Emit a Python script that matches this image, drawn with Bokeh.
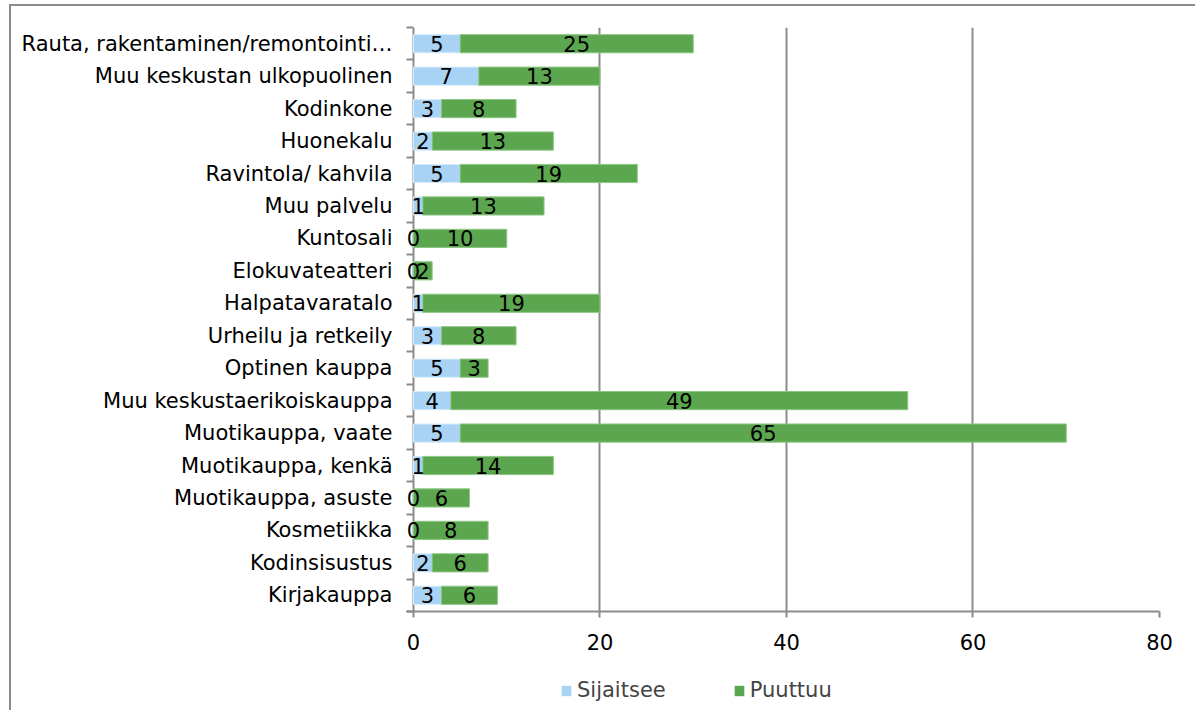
from bokeh.plotting import figure
from bokeh.models import ColumnDataSource, FixedTicker, Legend, LegendItem, Range1d
from bokeh.layouts import column
from bokeh.embed import file_html
from bokeh.resources import INLINE

categories = ["Kirjakauppa", "Kodinsisustus", "Kosmetiikka", "Muotikauppa, asuste",
              "Muotikauppa, kenkä", "Muotikauppa, vaate", "Muu keskustaerikoiskauppa",
              "Optinen kauppa", "Urheilu ja retkeily", "Halpatavaratalo", "Elokuvateatteri",
              "Kuntosali", "Muu palvelu", "Ravintola/ kahvila", "Huonekalu", "Kodinkone",
              "Muu keskustan ulkopuolinen", "Rauta, rakentaminen/remontointi…"]
sijaitsee = [3, 2, 0, 0, 1, 5, 4, 5, 3, 1, 0, 0, 1, 5, 2, 3, 7, 5]
puuttuu = [6, 6, 8, 6, 14, 65, 49, 3, 8, 19, 2, 10, 13, 19, 13, 8, 13, 25]
series = ["Sijaitsee", "Puuttuu"]
x_ticks = [0, 20, 40, 60, 80]

FONT = "DejaVu Sans"
FS = "21px"
BLUE = "#a9d3f4"
GREEN = "#5ca64f"
GRAY = "#8c8c8c"

n = len(categories)
ys = [i + 0.5 for i in range(n)]
p_end = [a + b for a, b in zip(sijaitsee, puuttuu)]
src = ColumnDataSource(dict(
    y=ys, cat=categories,
    s0=[0] * n, s1=sijaitsee, p1=p_end,
    sx=[v / 2 for v in sijaitsee],
    px=[a + b / 2 for a, b in zip(sijaitsee, puuttuu)],
    sl=[str(v) for v in sijaitsee], pl=[str(v) for v in puuttuu],
))

H1 = 660
W = 1184
p = figure(width=W, height=H1, output_backend="svg", toolbar_location=None,
           x_range=Range1d(-0.75, 80), y_range=Range1d(0, n),
           min_border_left=395, min_border_right=36, min_border_top=21,
           min_border_bottom=H1 - 605)
p.outline_line_color = None
p.background_fill_color = "white"
p.border_fill_color = "white"

p.hbar(y="y", left="s0", right="s1", height=0.56, source=src, fill_color=BLUE,
       line_color="#d6ebfb", line_width=1)
p.hbar(y="y", left="s1", right="p1", height=0.56, source=src, fill_color=GREEN,
       line_color="#8cc784", line_width=1)

p.text(x="sx", y="y", text="sl", source=src, text_align="center", text_baseline="middle",
       text_font={"value": FONT}, text_font_size=FS, text_color="black")
p.text(x="px", y="y", text="pl", source=src, text_align="center", text_baseline="middle",
       text_font={"value": FONT}, text_font_size=FS, text_color="black")

# x axis
p.xaxis.ticker = FixedTicker(ticks=x_ticks)
p.xaxis.axis_line_color = GRAY
p.xaxis.axis_line_width = 2
p.xaxis.major_tick_line_color = GRAY
p.xaxis.major_tick_line_width = 2
p.xaxis.major_tick_out = 6
p.xaxis.major_tick_in = 0
p.xaxis.minor_tick_line_color = None
p.xaxis.major_label_standoff = 16
p.xaxis.major_label_text_font = FONT
p.xaxis.major_label_text_font_size = FS
p.xaxis.major_label_text_color = "black"

# y axis (its line is the grid line at x = 0)
p.yaxis.ticker = FixedTicker(ticks=ys, minor_ticks=list(range(n + 1)))
p.yaxis.major_label_overrides = {y: c for y, c in zip(ys, categories)}
p.yaxis.axis_line_color = None
p.yaxis.major_tick_line_color = None
p.yaxis.major_tick_out = 0
p.yaxis.major_tick_in = 0
p.yaxis.minor_tick_line_color = GRAY
p.yaxis.minor_tick_line_width = 2
p.yaxis.minor_tick_out = 0
p.yaxis.minor_tick_in = 7
p.yaxis.major_label_standoff = 14
p.yaxis.major_label_text_font = FONT
p.yaxis.major_label_text_font_size = FS
p.yaxis.major_label_text_color = "black"

p.xgrid.ticker = FixedTicker(ticks=x_ticks)
p.xgrid.grid_line_color = GRAY
p.xgrid.grid_line_width = 2
p.ygrid.grid_line_color = None

# legend strip (its bars fall outside its range; only the legend shows)
H2 = 44
lg = figure(width=W, height=H2, output_backend="svg", toolbar_location=None,
            x_range=Range1d(0, 80), y_range=Range1d(100, 101),
            x_axis_location=None, y_axis_location=None,
            min_border=0)
lg.outline_line_color = None
lg.xgrid.grid_line_color = None
lg.ygrid.grid_line_color = None
d1 = lg.hbar(y="y", left="s0", right="s1", height=0.56, source=src, fill_color=BLUE, line_color=None)
d2 = lg.hbar(y="y", left="s1", right="p1", height=0.56, source=src, fill_color=GREEN, line_color=None)
legend = Legend(items=[LegendItem(label=series[0], renderers=[d1]),
                       LegendItem(label=series[1], renderers=[d2])],
                orientation="horizontal", location=(154, 8),
                label_text_font=FONT, label_text_font_size=FS,
                glyph_width=12, glyph_height=13, spacing=67,
                label_standoff=5, border_line_color=None,
                background_fill_alpha=0, margin=0, padding=0)
lg.add_layout(legend, "center")

layout = column(p, lg, spacing=0, margin=(4, 0, 0, 9),
                styles={"border-left": "2px solid #8c8c8c", "border-top": "2px solid #8c8c8c"})

open("out.html", "w").write(file_html(layout, INLINE))
